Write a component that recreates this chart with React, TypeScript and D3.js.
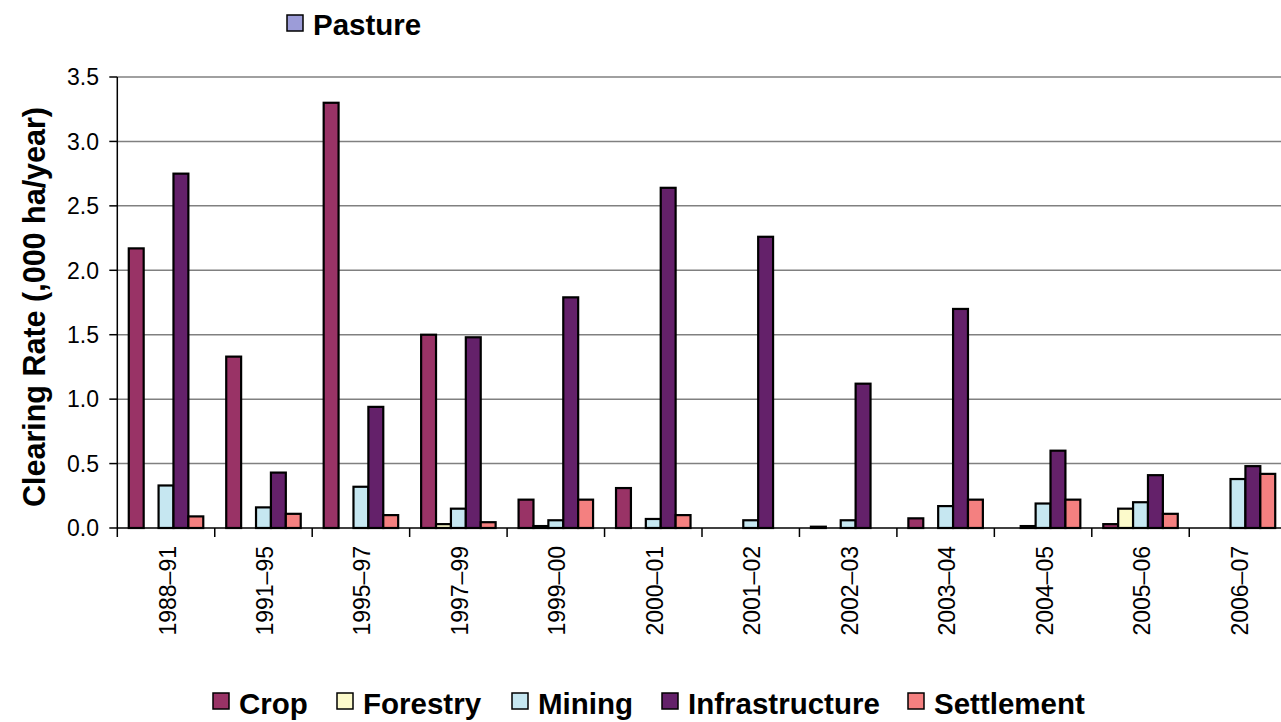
import React from "react";
import * as d3 from "d3";

const categories = ["1988–91", "1991–95", "1995–97", "1997–99", "1999–00", "2000–01", "2001–02", "2002–03", "2003–04", "2004–05", "2005–06", "2006–07"];
const seriesNames = ["Crop", "Forestry", "Mining", "Infrastructure", "Settlement"];
const crop = [2.17, 1.33, 3.3, 1.5, 0.22, 0.31, 0, 0.01, 0.075, 0, 0.03, 0];
const forestry = [0, 0, 0, 0.03, 0.015, 0, 0, 0, 0, 0.015, 0.15, 0];
const mining = [0.33, 0.16, 0.32, 0.15, 0.06, 0.07, 0.06, 0.06, 0.17, 0.19, 0.2, 0.38];
const infrastructure = [2.75, 0.43, 0.94, 1.48, 1.79, 2.64, 2.26, 1.12, 1.7, 0.6, 0.41, 0.48];
const settlement = [0.09, 0.11, 0.1, 0.045, 0.22, 0.1, 0, 0, 0.22, 0.22, 0.11, 0.42];
const yTicks = [0, 0.5, 1, 1.5, 2, 2.5, 3, 3.5];
const seriesValues = [crop, forestry, mining, infrastructure, settlement];
const seriesColors = ["#993366", "#FCFACB", "#C6E7F1", "#64216A", "#F48080"];
const pastureLabel = "Pasture";
const pastureColor = "#9C9CD8";

const W = 1281;
const H = 722;
const plotLeft = 117.3;
const groupW = 97.45;
const plotRight = plotLeft + groupW * categories.length;
const yBottom = 528;
const yTop = 77;
const legendTextX = [239, 363, 538, 688, 934];
const FONT = "'Liberation Sans', Arial, Helvetica, sans-serif";

export default function App() {
  const x = d3.scaleBand<string>().domain(categories).range([plotLeft, plotRight]).padding(0);
  const gap = (groupW - 5 * 14.9) / 2;
  const xs = d3.scaleBand<string>().domain(seriesNames).range([gap, groupW - gap]).padding(0);
  const y = d3.scaleLinear().domain([0, 3.5]).range([yBottom, yTop]);
  const fmt = d3.format(".1f");

  return (
    <div style={{ position: "fixed", left: 0, top: 0, width: W, height: H, background: "#fff" }}>
      <svg width={W} height={H} style={{ display: "block", fontFamily: FONT }}>
        <rect width={W} height={H} fill="#fff" />
        {yTicks.filter((t) => t > 0).map((t) => (
          <line key={"g" + t} x1={plotLeft} x2={W} y1={y(t)} y2={y(t)} stroke="#808080" strokeWidth={1.5} />
        ))}
        {seriesNames.map((s, si) =>
          categories.map((c, ci) => {
            const v = seriesValues[si][ci];
            if (!v) return null;
            const bx = (x(c) as number) + (xs(s) as number);
            return (
              <rect
                key={s + c}
                x={bx}
                y={y(v)}
                width={xs.bandwidth()}
                height={y(0) - y(v)}
                fill={seriesColors[si]}
                stroke="#000"
                strokeWidth={2.2}
              />
            );
          })
        )}
        <line x1={plotLeft} x2={plotLeft} y1={yTop} y2={yBottom} stroke="#000" strokeWidth={1.5} />
        {yTicks.map((t) => (
          <g key={"yt" + t}>
            <line x1={plotLeft - 8} x2={plotLeft} y1={y(t)} y2={y(t)} stroke="#000" strokeWidth={1.5} />
            <text x={99} y={y(t)} dy="0.36em" textAnchor="end" fontSize={23} fill="#000">
              {fmt(t)}
            </text>
          </g>
        ))}
        <line x1={plotLeft} x2={W} y1={yBottom} y2={yBottom} stroke="#000" strokeWidth={1.5} />
        {categories.map((c) => (
          <line key={"xt" + c} x1={x(c) as number} x2={x(c) as number} y1={yBottom} y2={yBottom + 9} stroke="#000" strokeWidth={1.5} />
        ))}
        {categories.map((c) => {
          const cx = (x(c) as number) + groupW / 2 + 1.5;
          return (
            <text
              key={"xl" + c}
              transform={`translate(${cx},546) rotate(-90)`}
              dy="0.35em"
              textAnchor="end"
              fontSize={23}
              fill="#000"
            >
              {c}
            </text>
          );
        })}
        <text
          transform={`translate(45,307) rotate(-90)`}
          textAnchor="middle"
          fontSize={30.5}
          fontWeight="bold"
          fill="#000"
        >
          Clearing Rate (,000 ha/year)
        </text>
        <rect x={287} y={15} width={16} height={16} fill={pastureColor} stroke="#000" strokeWidth={1.5} />
        <text x={313} y={35} fontSize={29.5} fontWeight="bold" fill="#000">
          {pastureLabel}
        </text>
        {seriesNames.map((s, i) => (
          <g key={"lg" + s}>
            <rect x={legendTextX[i] - 26} y={693} width={16} height={16} fill={seriesColors[i]} stroke="#000" strokeWidth={1.5} />
            <text x={legendTextX[i]} y={714} fontSize={29.5} fontWeight="bold" fill="#000">
              {s}
            </text>
          </g>
        ))}
      </svg>
    </div>
  );
}
